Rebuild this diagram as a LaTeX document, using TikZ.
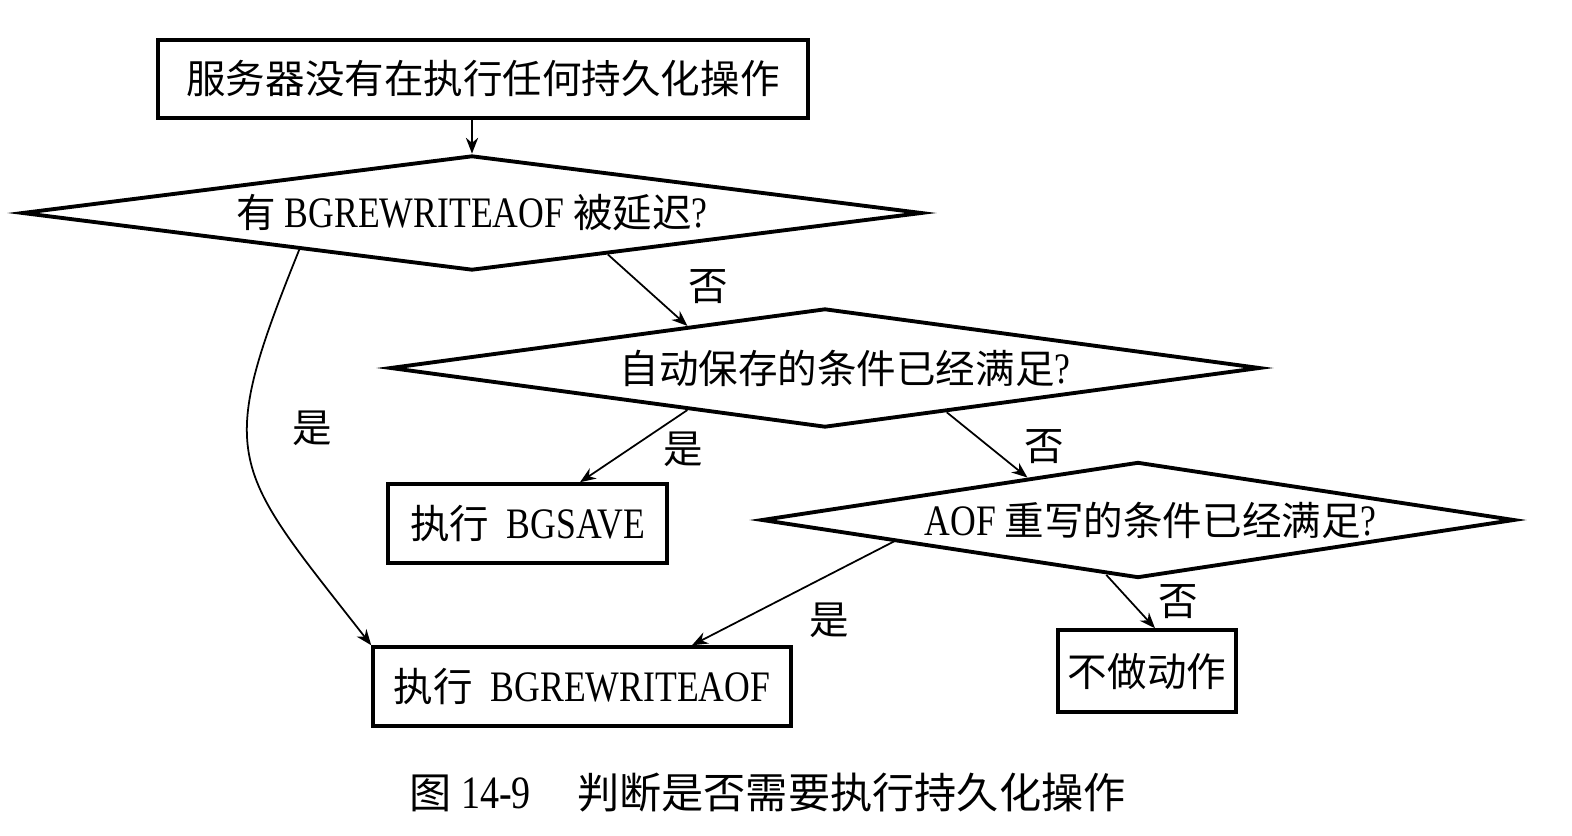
\documentclass[tikz,border=0pt]{standalone}
\usepackage{fontspec}
\setmainfont{Liberation Serif}[Scale=1.1, FakeStretch=0.82]
\newfontfamily\cjk{Noto Sans CJK SC}
\newcommand{\zh}[1]{{\cjk #1}}
\usetikzlibrary{shapes.geometric, arrows.meta}
\tikzstyle{process} = [rectangle, minimum height=1.58cm, inner sep=0pt, text centered, draw=black, line width=2pt]
\tikzstyle{decision} = [diamond, aspect=6.5, inner sep=0pt, text centered, draw=black, line width=2.2pt]
\tikzstyle{answer} = [inner sep=0pt]
\tikzstyle{arrow} = [line width=1pt,-{Stealth[length=9pt,width=7pt]}]

\begin{document}
\begin{tikzpicture}[node distance=3cm, font=\fontsize{22.5}{27}\selectfont]
\useasboundingbox (0,0) rectangle (31.44,-16.72);

%% NODES
\node (start) [process, minimum width=13cm, minimum height=1.56cm] at (9.66,-1.58) {\zh{服务器没有在执行任何持久化操作}};
\node (dec1) [decision, below of=start, xshift=-0.22cm, yshift=0.32cm, minimum width=18cm, minimum height=2.3cm] {\zh{有} BGREWRITEAOF \zh{被延迟}?};
\node (dec2) [decision, below of=dec1, xshift=7.06cm, yshift=-0.1cm, minimum width=17.4cm, minimum height=2.38cm] {\hspace*{0.8cm}\zh{自动保存的条件已经满足}?};
\node (dec3) [decision, below of=dec2, xshift=6.26cm, yshift=-0.04cm, minimum width=15.06cm, minimum height=2.32cm] {\hspace*{0.5cm}AOF \zh{重写的条件已经满足}?};
\node (pro1) [process, below of=dec2, xshift=-5.95cm, yshift=-0.11cm, minimum width=5.58cm] {\zh{执行}\ \ BGSAVE};
\node (pro2) [process, below of=pro1, xshift=1.09cm, yshift=-0.26cm, minimum width=8.36cm] {\zh{执行}\ \ BGREWRITEAOF};
\node (pro3) [process, below of=dec3, xshift=0.18cm, yshift=-0.02cm, minimum width=3.56cm, minimum height=1.64cm] {\zh{不做动作}};
\node (caption) [below of=pro2, xshift=3.71cm, yshift=0.87cm, font=\fontsize{24}{28}\selectfont] {\zh{图} 14-9\quad\zh{判断是否需要执行持久化操作}};

%% ARROWS
\draw [arrow] (start.south -| dec1.north) -- (dec1.north);
\draw [arrow] (dec1.-17.8) -- node[answer, pos=0.45, xshift=1.29cm] {\zh{否}} (dec2.163.1);
\draw [arrow] (dec1.-168.7) to[out=-112, in=128, looseness=1.45] node[answer, pos=0.4, xshift=1.3cm] {\zh{是}} (pro2.north west);
\draw [arrow] (dec2.-163.7) -- node[answer, xshift=0.99cm, yshift=-0.07cm] {\zh{是}} ([xshift=1.05cm]pro1.north);
\draw [arrow] (dec2.-20.9) -- node[answer, xshift=1.14cm, yshift=-0.04cm] {\zh{否}} (dec3.159.9);
\draw [arrow] (dec3.-175.1) -- node[answer, xshift=0.73cm, yshift=-0.54cm] {\zh{是}} ([xshift=2.2cm]pro2.north);
\draw [arrow] (dec3.-120.1) -- node[answer, xshift=0.96cm] {\zh{否}} ([xshift=0.16cm]pro3.north);
\end{tikzpicture}
\end{document}
